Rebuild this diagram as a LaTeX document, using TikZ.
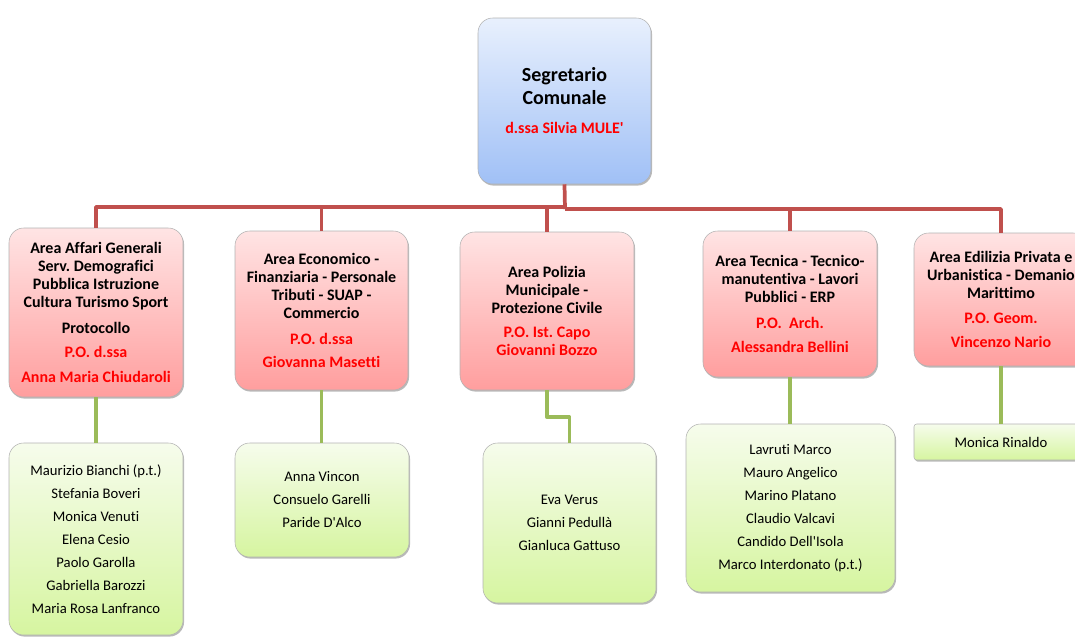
\documentclass[tikz,border=0pt]{standalone}
\usepackage{fontspec}
\setmainfont{Carlito}[Ligatures={CommonOff,TeXOff}]
\usetikzlibrary{positioning, shadows}
\definecolor{office_red}{RGB}{192,80,77}
\definecolor{office_green}{RGB}{155,187,89}
\definecolor{blue_top}{RGB}{232,240,253}
\definecolor{blue_bot}{RGB}{160,192,246}
\definecolor{red_top}{RGB}{255,228,228}
\definecolor{red_bot}{RGB}{255,158,158}
\definecolor{green_top}{RGB}{246,252,236}
\definecolor{green_bot}{RGB}{214,245,160}
\definecolor{po_red}{RGB}{255,0,0}
\newcommand\pxu{0.75pt}
\newcommand\po[1]{\textcolor{po_red}{#1}}
\frenchspacing
\tikzset{
  orgbox/.style={draw=gray!60, line width=0.4pt, rounded corners=11pt, align=center, inner sep=0pt,
    drop shadow={shadow xshift=0.8pt, shadow yshift=-1.2pt, opacity=0.55}},
  headbox/.style={orgbox, top color=blue_top, bottom color=blue_bot, font=\fontsize{15}{17.25}\selectfont\bfseries},
  areabox/.style={orgbox, top color=red_top, bottom color=red_bot, font=\fontsize{12}{13.5}\selectfont\bfseries},
  staffbox/.style={orgbox, top color=green_top, bottom color=green_bot, font=\fontsize{11}{17.25}\selectfont},
  redline/.style={office_red, line width=2.8pt},
  greenline/.style={office_green, line width=2.8pt}
}

\begin{document}
\begin{tikzpicture}[x=\pxu,y=-\pxu,line join=round]
		\clip (0,0) rectangle (1075,643);
		% segretario
		\node[headbox, minimum width=173*\pxu, minimum height=166*\pxu] (seg) at (564.5,101)
			{Segretario\\Comunale\\[4.5pt]\po{\fontsize{12}{13}\selectfont d.ssa Silvia MULE'}};
		% aree
		\node[areabox, minimum width=174*\pxu, minimum height=169*\pxu] (a1) at (96,312.5)
			{Area Affari Generali\\Serv. Demografici\\Pubblica Istruzione\\Cultura Turismo Sport\\[6pt]Protocollo\\[4.5pt]\po{P.O. d.ssa}\\[5.25pt]\po{Anna Maria Chiudaroli}};
		\node[areabox, minimum width=173*\pxu, minimum height=159*\pxu] (a2) at (321.5,310.5)
			{Area Economico -\\Finanziaria - Personale\\Tributi - SUAP -\\Commercio\\[6pt]\po{P.O. d.ssa}\\[3.75pt]\po{Giovanna Masetti}};
		\node[areabox, minimum width=174*\pxu, minimum height=158*\pxu] (a3) at (547,311)
			{Area Polizia\\Municipale -\\Protezione Civile\\[4.5pt]\po{P.O. Ist. Capo}\\\po{Giovanni Bozzo}};
		\node[areabox, minimum width=174*\pxu, minimum height=146*\pxu] (a4) at (790,304)
			{Area Tecnica - Tecnico-\\manutentiva - Lavori\\Pubblici - ERP\\[6pt]\po{P.O.~~Arch.}\\[4.5pt]\po{Alessandra Bellini}};
		\node[areabox, minimum width=174*\pxu, minimum height=133*\pxu] (a5) at (1001,299.5)
			{Area Edilizia Privata e\\Urbanistica - Demanio\\Marittimo\\[5.25pt]\po{P.O. Geom.}\\[4.5pt]\po{Vincenzo Nario}};
		% personale
		\node[staffbox, minimum width=174*\pxu, minimum height=192*\pxu] (b1) at (96,539)
			{Maurizio Bianchi (p.t.)\\Stefania Boveri\\Monica Venuti\\Elena Cesio\\Paolo Garolla\\Gabriella Barozzi\\Maria Rosa Lanfranco};
		\node[staffbox, minimum width=174*\pxu, minimum height=114*\pxu] (b2) at (322,500)
			{Anna Vincon\\Consuelo Garelli\\Paride D'Alco};
		\node[staffbox, minimum width=173*\pxu, minimum height=160*\pxu] (b3) at (569.5,523)
			{Eva Verus\\Gianni Pedullà\\Gianluca Gattuso};
		\node[staffbox, minimum width=209*\pxu, minimum height=168*\pxu] (b4) at (790.5,508)
			{Lavruti Marco\\Mauro Angelico\\Marino Platano\\Claudio Valcavi\\Candido Dell'Isola\\Marco Interdonato (p.t.)};
		\node[staffbox, rounded corners=2pt, minimum width=174*\pxu, minimum height=36*\pxu] (b5) at (1001,442)
			{Monica Rinaldo};
		% collegamenti
		\coordinate (busl) at (565,207);
		\coordinate (busr) at (565,209);
		\draw[redline] (seg.south) -- (busr);
		\foreach\n in {a1,a2,a3}
			\draw[redline] (busl) -| (\n.north);
		\foreach\n in {a4,a5}
			\draw[redline] (busr) -| (\n.north);
		\foreach\n in {1,2,4,5}
			\draw[greenline] (a\n.south) -- (b\n.north -| a\n.south);
		\draw[greenline] (a3.south) -- ++(0,27) -| (b3.north);
	\end{tikzpicture}
\end{document}
